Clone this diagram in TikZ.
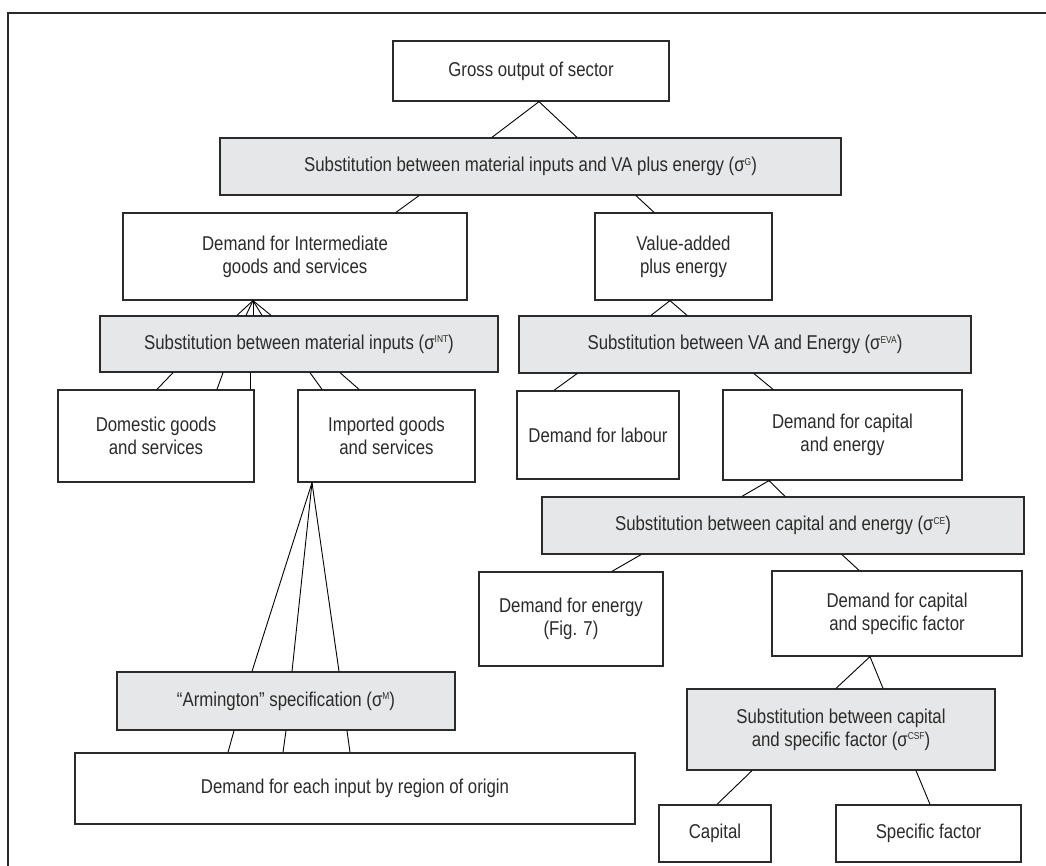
\documentclass[tikz,border=0pt]{standalone}
\usepackage{fontspec}
\setmainfont{Liberation Sans}[FakeStretch=0.84]
\usepackage{tikz}
\definecolor{subgrey}{HTML}{E6E7E8}
\definecolor{inkgrey}{HTML}{2B2B2B}
\newcommand{\elast}[1]{(σ\raisebox{6.5pt}{\fontsize{10}{10}\selectfont #1})}

\begin{document}
\begin{tikzpicture}[x=1pt,y=-1pt,line width=0.9pt,
                    font=\fontsize{20}{23}\selectfont]
  \tikzstyle{box}=[draw=inkgrey,line width=1.3pt,fill=white,text=inkgrey,
                   align=center,inner sep=0pt]
  \tikzstyle{subst}=[box,fill=subgrey]
  \tikzstyle{link}=[draw=black,line width=0.9pt]

  \useasboundingbox (0,0) rectangle (1046,866);
  \draw[draw=inkgrey,line width=1.4pt] (1046,13) -| (8,866);

  % top of the tree
  \node[box,minimum width=276pt,minimum height=60pt]   (gross)  at (531,71)    {Gross output of sector};
  \node[subst,minimum width=621pt,minimum height=57pt] (subG)   at (530.5,166.5)
       {Substitution between material inputs and VA plus energy \elast{G}};
  \node[box,minimum width=344pt,minimum height=87pt]   (dint)   at (295,256.5)  {Demand for Intermediate\\goods and services};
  \node[box,minimum width=177pt,minimum height=87pt]   (vadd)   at (683.5,256.5) {Value-added\\plus energy};

  % material inputs
  \node[subst,minimum width=398pt,minimum height=56pt] (subINT) at (299,344)
       {Substitution between material inputs \elast{INT}};
  \node[box,minimum width=196pt,minimum height=92pt]   (dom)    at (156,436)    {Domestic goods\\and services};
  \node[box,minimum width=177pt,minimum height=92pt]   (imp)    at (386.5,436)  {Imported goods\\and services};
  \node[subst,minimum width=338pt,minimum height=58pt] (arm)    at (286,701)
       {“Armington” specification \elast{M}};
  \node[box,minimum width=560pt,minimum height=71pt]   (region) at (355,788.5)  {Demand for each input by region of origin};

  % value added and energy
  \node[subst,minimum width=452pt,minimum height=57pt] (subEVA) at (745,344.5)
       {Substitution between VA and Energy \elast{EVA}};
  \node[box,minimum width=162pt,minimum height=88pt]   (labour) at (598,435)    {Demand for labour};
  \node[box,minimum width=239pt,minimum height=90pt]   (dce)    at (842.5,435)  {Demand for capital\\and energy};
  \node[subst,minimum width=482pt,minimum height=57pt] (subCE)  at (783,525.5)
       {Substitution between capital and energy \elast{CE}};
  \node[box,minimum width=184pt,minimum height=94pt]   (energy) at (571,619)    {Demand for energy\\(Fig. 7)};
  \node[box,minimum width=250pt,minimum height=85pt]   (dcsf)   at (897,613.5)  {Demand for capital\\and specific factor};
  \node[subst,minimum width=308pt,minimum height=81pt] (subCSF) at (841,729.5)
       {Substitution between capital\\and specific factor \elast{CSF}};
  \node[box,minimum width=112pt,minimum height=57pt]   (capital) at (715,833.5) {Capital};
  \node[box,minimum width=185pt,minimum height=57pt]   (sfactor) at (928.5,833.5) {Specific factor};

  % connectors
  \draw[link] ([xshift=-38.5pt]subG.north) -- ([xshift=8pt]gross.south) -- ([xshift=46.5pt]subG.north);
  \draw[link] ([xshift=-111.5pt]subG.south) -- ([xshift=101pt]dint.north);
  \draw[link] ([xshift=105.5pt]subG.south) -- ([xshift=-29.5pt]vadd.north);

  \foreach \dx in {-62,-53,-46,-37,-28}
    \draw[link] ([xshift=-42pt]dint.south) -- ([xshift=\dx pt]subINT.north);
  \draw[link] ([xshift=-126pt]subINT.south) -- ([xshift=1pt]dom.north);
  \draw[link] ([xshift=-76pt]subINT.south) -- ([xshift=61pt]dom.north);
  \draw[link] ([xshift=-49pt]subINT.south) -- ([xshift=94pt]dom.north);
  \draw[link] ([xshift=11pt]subINT.south) -- ([xshift=-64.5pt]imp.north);
  \draw[link] ([xshift=41pt]subINT.south) -- ([xshift=-27.5pt]imp.north);

  \foreach \dx in {-34,6,53}
    \draw[link] ([xshift=-74.5pt]imp.south) -- ([xshift=\dx pt]arm.north);
  \draw[link] ([xshift=-52pt]arm.south) -- ([xshift=-127pt]region.north);
  \draw[link] ([xshift=0pt]arm.south) -- ([xshift=-72pt]region.north);
  \draw[link] ([xshift=61pt]arm.south) -- ([xshift=-5pt]region.north);

  \draw[link] ([xshift=-94pt]subEVA.north) -- ([xshift=-13.5pt]vadd.south) -- ([xshift=-58pt]subEVA.north);
  \draw[link] ([xshift=-168pt]subEVA.south) -- ([xshift=-44pt]labour.north);
  \draw[link] ([xshift=9pt]subEVA.south) -- ([xshift=-69.5pt]dce.north);

  \draw[link] ([xshift=-41pt]subCE.north) -- ([xshift=-73.5pt]dce.south) -- ([xshift=2pt]subCE.north);
  \draw[link] ([xshift=-142pt]subCE.south) -- ([xshift=41pt]energy.north);
  \draw[link] ([xshift=59pt]subCE.south) -- ([xshift=-38pt]dcsf.north);

  \draw[link] ([xshift=-5pt]subCSF.north) -- ([xshift=-27pt]dcsf.south) -- ([xshift=42pt]subCSF.north);
  \draw[link] ([xshift=-89pt]subCSF.south) -- ([xshift=2pt]capital.north);
  \draw[link] ([xshift=75pt]subCSF.south) -- ([xshift=1.5pt]sfactor.north);
\end{tikzpicture}
\end{document}
